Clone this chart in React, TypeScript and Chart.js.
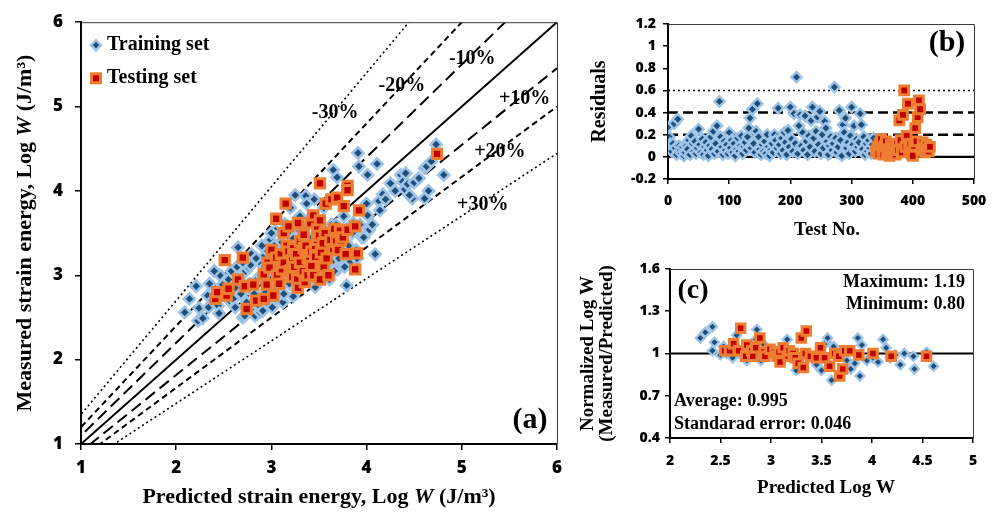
import React, { useEffect, useRef } from "react";
import { Chart, registerables } from "chart.js";

Chart.register(...registerables);

const SERIF = '"Liberation Serif", "Times New Roman", serif';
const SANS = '"Open Sans", "Noto Sans", sans-serif';

const TRAIN_FILL = "#1F4E79";
const TRAIN_EDGE = "#9DC3E6";
const TEST_FILL = "#C00000";
const TEST_EDGE = "#ED7D31";

// ---------- (a) measured vs predicted log W ----------
const trainPredA = [
  2.09, 2.14, 2.21, 2.23, 2.24, 2.28, 2.33, 2.34, 2.38, 2.44, 2.46, 2.49, 2.52, 2.56, 2.6, 2.62,
  2.65, 2.66, 2.7, 2.72, 2.73, 2.76, 2.78, 2.8, 2.81, 2.83, 2.85, 2.88, 2.88, 2.9, 2.92, 2.94,
  2.95, 2.97, 2.99, 3.0, 3.02, 3.04, 3.05, 3.07, 3.09, 3.1, 3.12, 3.12, 3.14, 3.15, 3.16, 3.18,
  3.2, 3.22, 3.24, 3.25, 3.27, 3.28, 3.3, 3.32, 3.34, 3.36, 3.37, 3.38, 3.4, 3.42, 3.43, 3.45,
  3.46, 3.48, 3.5, 3.52, 3.54, 3.55, 3.56, 3.58, 3.6, 3.62, 3.63, 3.65, 3.65, 3.67, 3.69, 3.7,
  3.72, 3.74, 3.76, 3.78, 3.79, 3.8, 3.82, 3.86, 3.9, 3.91, 3.92, 3.95, 4.01, 4.01, 4.03, 4.09,
  4.11, 4.13, 4.14, 4.17, 4.25, 4.36, 4.38, 4.4, 4.41, 4.43, 4.48, 4.61, 4.61, 4.63, 4.68, 4.73,
  4.81, 2.55, 2.58, 2.62, 2.64, 2.68, 2.7, 2.74, 2.77, 2.79, 2.82, 2.84, 2.86, 2.89, 2.91, 2.93,
  2.96, 2.98, 3.01, 3.03, 3.06, 3.08, 3.11, 3.13, 3.17, 3.19, 3.21, 3.23, 3.26, 3.29, 3.31, 3.33,
  3.35, 3.39, 3.41, 3.44, 3.47, 3.49, 3.53, 3.57, 3.59, 3.61, 3.64, 3.66, 3.68, 3.71, 3.73, 3.77,
  3.81, 3.85, 3.89, 3.93, 3.97, 4.0, 4.06, 4.2, 4.3, 4.45, 4.5, 4.55, 4.65, 2.35, 2.45, 2.4,
  3.2, 3.3, 3.45, 3.1, 2.9, 3.0, 3.25,
];
const trainMeasA = [
  2.56, 2.72, 2.87, 2.46, 2.61, 2.49, 2.76, 2.62, 2.7, 2.64, 3.0, 2.89, 2.78, 2.7, 2.72, 2.85,
  3.33, 2.95, 2.5, 2.52, 3.05, 3.09, 3.12, 2.62, 2.56, 2.52, 2.95, 2.56, 3.15, 2.7, 3.22, 2.8,
  3.3, 2.66, 3.42, 2.95, 3.1, 3.53, 2.72, 3.25, 2.79, 3.38, 2.89, 2.68, 3.61, 2.95, 3.05, 3.2,
  2.98, 3.45, 3.1, 2.85, 3.3, 3.55, 3.0, 3.18, 3.4, 3.94, 3.85, 3.05, 3.25, 3.7, 2.95, 3.35,
  2.86, 3.15, 3.55, 3.05, 3.3, 3.8, 2.98, 3.11, 3.4, 3.2, 3.6, 3.18, 4.25, 3.35, 4.16, 3.07,
  3.5, 3.25, 3.7, 3.4, 2.88, 3.55, 3.15, 3.62, 3.2, 4.45, 4.29, 3.45, 4.19, 3.71, 3.54, 3.25,
  4.32, 3.88, 3.77, 3.96, 4.09, 4.19, 4.11, 4.02, 4.21, 4.08, 3.91, 3.91, 4.27, 4.29, 4.35, 4.55,
  4.19, 2.95, 3.05, 2.62, 3.1, 2.78, 3.15, 2.68, 2.9, 3.25, 2.78, 3.2, 2.65, 3.0, 2.58, 3.1,
  2.9, 3.18, 2.62, 3.35, 2.85, 3.05, 3.2, 2.78, 3.5, 2.9, 3.3, 2.75, 3.62, 3.1, 2.9, 3.55,
  3.2, 3.45, 2.98, 3.6, 3.05, 3.25, 3.4, 3.15, 3.3, 2.95, 3.45, 3.05, 3.6, 3.2, 3.4, 3.1,
  3.35, 3.5, 3.3, 3.6, 3.45, 3.85, 3.6, 3.9, 4.0, 3.95, 4.1, 4.15, 4.0, 2.9, 2.55, 3.05,
  3.8, 3.7, 3.9, 3.5, 3.35, 3.5, 3.95,
];
const testPredA = [
  2.41, 2.43, 2.51, 2.53, 2.55, 2.65, 2.7, 2.72, 2.74, 2.81, 2.84, 2.92, 2.92, 2.95, 2.96, 2.98,
  3.0, 3.02, 3.05, 3.05, 3.06, 3.08, 3.1, 3.11, 3.13, 3.13, 3.15, 3.16, 3.18, 3.18, 3.19, 3.21,
  3.22, 3.22, 3.23, 3.24, 3.26, 3.27, 3.28, 3.28, 3.3, 3.3, 3.33, 3.34, 3.34, 3.35, 3.36, 3.38,
  3.38, 3.4, 3.41, 3.42, 3.42, 3.44, 3.44, 3.46, 3.46, 3.48, 3.48, 3.5, 3.51, 3.51, 3.51, 3.52,
  3.54, 3.55, 3.56, 3.57, 3.58, 3.6, 3.62, 3.63, 3.65, 3.66, 3.68, 3.69, 3.7, 3.72, 3.73, 3.75,
  3.76, 3.78, 3.8, 3.8, 3.8, 3.88, 3.88, 3.9, 3.92, 4.74,
];
const testMeasA = [
  2.72, 2.8, 3.18, 2.76, 2.84, 2.95, 3.21, 2.87, 2.6, 2.89, 2.7, 2.72, 3.01, 2.89, 3.15, 3.09,
  3.3, 2.76, 3.67, 3.21, 3.0, 2.9, 3.25, 3.07, 3.15, 3.5, 3.85, 3.35, 3.28, 3.58, 3.05, 3.06,
  3.18, 2.98, 3.32, 3.1, 3.25, 2.95, 3.62, 2.85, 3.15, 3.4, 3.05, 3.32, 3.48, 2.92, 3.35, 3.2,
  3.0, 3.18, 3.62, 3.28, 3.11, 3.71, 3.0, 3.35, 3.22, 3.42, 3.55, 3.47, 4.09, 3.65, 2.95, 3.27,
  3.38, 3.1, 3.5, 3.85, 3.2, 3.0, 3.42, 3.9, 3.31, 3.55, 3.4, 3.92, 3.3, 3.53, 3.41, 3.45,
  3.82, 3.25, 4.06, 4.01, 3.54, 3.58, 3.07, 3.26, 3.77, 4.44,
];
// error bands: measured = factor x predicted
const bandFactors = [1.1, 1.2, 1.35];
const bandLabels = ["-10%", "-20%", "-30%", "+10%", "+20%", "+30%"];
const bandLabelX = [5.11, 4.37, 3.67, 5.66, 5.4, 5.22];
const bandLabelY = [5.57, 5.25, 4.93, 5.09, 4.46, 3.84];

// ---------- (b) residuals by test number ----------
const trainFirstNo = 0;
const testFirstNo = 340;
const testNoStep = 2;
const residualTrain = [
  0.27, 0.18, 0.12, 0.05, 0.12, 0.3, 0.08, 0.02, 0.34, 0.1, 0.06, 0.03, 0.09, 0.01, 0.04, 0.1,
  0.07, 0.15, 0.02, 0.19, 0.12, 0.05, 0.14, 0.03, 0.08, 0.25, 0.11, 0.04, 0.16, 0.02, 0.09, 0.13,
  0.06, 0.01, 0.1, 0.18, 0.07, 0.23, 0.03, 0.12, 0.28, 0.05, 0.5, 0.18, 0.09, 0.02, 0.14, 0.06,
  0.11, 0.03, 0.22, 0.08, 0.15, 0.04, 0.12, 0.01, 0.07, 0.17, 0.05, 0.1, 0.19, 0.03, 0.09, 0.13,
  0.06, 0.18, 0.26, 0.35, 0.08, 0.43, 0.12, 0.04, 0.23, 0.48, 0.18, 0.07, 0.02, 0.11, 0.05, 0.14,
  0.03, 0.2, 0.09, 0.01, 0.06, 0.12, 0.04, 0.2, 0.15, 0.08, 0.44, 0.11, 0.03, 0.17, 0.06, 0.22,
  0.13, 0.02, 0.24, 0.09, 0.45, 0.16, 0.05, 0.39, 0.12, 0.72, 0.03, 0.28, 0.38, 0.1, 0.22, 0.06,
  0.37, 0.14, 0.02, 0.19, 0.09, 0.33, 0.45, 0.17, 0.05, 0.23, 0.36, 0.11, 0.41, 0.03, 0.2, 0.08,
  0.32, 0.26, 0.14, 0.02, 0.1, 0.18, 0.06, 0.12, 0.63, 0.17, 0.04, 0.09, 0.42, 0.15, 0.01, 0.29,
  0.22, 0.35, 0.08, 0.13, 0.03, 0.19, 0.45, 0.11, 0.28, 0.05, 0.16, 0.09, 0.13, 0.39, 0.29, 0.07,
  0.18, 0.02, 0.12, 0.05, 0.15, 0.08, 0.03, 0.11, 0.17, 0.06,
];
const residualTest = [
  0.05, 0.09, 0.03, 0.12, 0.16, 0.06, 0.02, 0.1, 0.14, 0.04, 0.07, 0.01, 0.11, 0.03, 0.08, 0.05,
  0.02, 0.12, 0.06, 0.33, 0.15, 0.04, 0.38, 0.6, 0.09, 0.19, 0.48, 0.07, 0.12, 0.03, 0.01, 0.1,
  0.26, 0.14, 0.36, 0.51, 0.43, 0.06, 0.13, 0.08, 0.04, 0.11, 0.07, 0.05, 0.09,
];
const residualGuides = [0.6, 0.4, 0.2, 0];

// ---------- (c) normalized log W ----------
const trainPredC = [
  2.3, 2.35, 2.42, 2.44, 2.42, 2.5, 2.53, 2.56, 2.62, 2.66, 2.69, 2.76, 2.85, 2.86, 2.9, 2.92,
  3.06, 3.16, 3.22, 3.25, 3.34, 3.45, 3.49, 3.5, 3.55, 3.56, 3.6, 3.62, 3.71, 3.72, 3.75, 3.79,
  3.83, 3.86, 3.88, 3.9, 3.95, 4.01, 4.06, 4.11, 4.14, 4.18, 4.23, 4.28, 4.32, 4.41, 4.42, 4.54,
  4.61,
];
const trainRatioC = [
  1.11, 1.15, 1.19, 1.08, 1.02, 0.99, 1.05, 1.0, 0.97, 1.13, 1.0, 0.95, 1.1, 1.17, 0.95, 1.07,
  0.98, 1.1, 0.98, 0.88, 0.99, 0.92, 0.98, 0.88, 1.08, 1.11, 0.81, 1.05, 0.88, 1.01, 0.95, 0.89,
  0.93, 1.11, 0.84, 1.06, 0.95, 0.97, 0.94, 1.1, 1.04, 0.97, 0.99, 0.92, 1.0, 0.98, 0.89, 1.01,
  0.91,
];
const testPredC = [
  2.54, 2.59, 2.63, 2.68, 2.7, 2.75, 2.76, 2.81, 2.82, 2.85, 2.89, 2.93, 2.94, 2.99, 3.04, 3.06,
  3.08, 3.09, 3.12, 3.17, 3.18, 3.22, 3.24, 3.27, 3.3, 3.32, 3.34, 3.35, 3.39, 3.45, 3.49, 3.53,
  3.58, 3.63, 3.67, 3.68, 3.71, 3.73, 3.78, 3.87, 4.01, 4.19, 4.54,
];
const testRatioC = [
  1.02, 1.02, 1.07, 1.02, 1.18, 0.98, 1.06, 1.02, 0.98, 1.04, 1.11, 1.01, 0.98, 1.03, 1.01, 0.98,
  1.01, 0.94, 1.04, 0.98, 1.02, 1.0, 0.97, 0.93, 1.11, 0.9, 1.0, 1.16, 0.98, 0.97, 1.04, 0.97,
  0.91, 1.0, 0.98, 0.84, 0.89, 1.02, 1.02, 0.99, 1.0, 0.98, 0.98,
];
const statsTop = ["Maximum: 1.19", "Minimum: 0.80"];
const statsBottom = ["Average: 0.995", "Standarad error: 0.046"];

// ---------- helpers ----------
const pts = (xs: number[], ys: number[]) => xs.map((x, i) => ({ x, y: ys[i] }));
const seq = (start: number, ys: number[]) => ys.map((y, i) => ({ x: start + i * testNoStep, y }));

type Run = { t: string; it?: boolean };

function drawRuns(ctx: CanvasRenderingContext2D, runs: Run[], cx: number, cy: number, size: number, angle = 0) {
  ctx.save();
  ctx.translate(cx, cy);
  ctx.rotate(angle);
  ctx.fillStyle = "#000";
  ctx.textAlign = "left";
  ctx.textBaseline = "middle";
  const fontOf = (r: Run) => `${r.it ? "italic " : ""}bold ${size}px ${SERIF}`;
  const widths = runs.map((r) => {
    ctx.font = fontOf(r);
    return ctx.measureText(r.t).width;
  });
  let x = -widths.reduce((s, w) => s + w, 0) / 2;
  runs.forEach((r, i) => {
    ctx.font = fontOf(r);
    ctx.fillText(r.t, x, 0);
    x += widths[i];
  });
  ctx.restore();
}

function text(ctx: CanvasRenderingContext2D, t: string, x: number, y: number, size: number, align: CanvasTextAlign = "center") {
  ctx.save();
  ctx.font = `bold ${size}px ${SERIF}`;
  ctx.fillStyle = "#000";
  ctx.textAlign = align;
  ctx.textBaseline = "middle";
  ctx.fillText(t, x, y);
  ctx.restore();
}

function frame(ctx: CanvasRenderingContext2D, a: any) {
  ctx.save();
  ctx.strokeStyle = "#3a3a3a";
  ctx.lineWidth = 1;
  ctx.beginPath();
  ctx.moveTo(a.left, a.top + 0.5);
  ctx.lineTo(a.right + 0.5, a.top + 0.5);
  ctx.lineTo(a.right + 0.5, a.bottom);
  ctx.stroke();
  ctx.restore();
}

const plainNumber = (v: any) => String(Number(Number(v).toFixed(2)));

function axis(min: number, max: number, step: number, size: number, pad: number, tick: number, fit: number, vertical: boolean) {
  return {
    type: "linear",
    min,
    max,
    ticks: {
      stepSize: step,
      color: "#000",
      font: { family: SANS, size, weight: "800" },
      padding: pad,
      maxRotation: 0,
      autoSkip: false,
      callback: plainNumber,
    },
    grid: { drawOnChartArea: false, drawTicks: true, tickLength: tick, color: "#000", lineWidth: 1.5 },
    border: { display: true, color: "#000", width: 2 },
    afterFit: (s: any) => {
      if (vertical) s.width = fit;
      else s.height = fit;
    },
  };
}

function markerSet(data: any[], train: boolean, r: number, bw: number) {
  return {
    data,
    order: train ? 1 : 0,
    showLine: false,
    pointStyle: train ? "rectRot" : "rect",
    pointRadius: r,
    pointHoverRadius: r,
    pointBorderWidth: bw,
    pointBackgroundColor: train ? TRAIN_FILL : TEST_FILL,
    pointBorderColor: train ? TRAIN_EDGE : TEST_EDGE,
  };
}

function guide(data: any[], dash: number[], width: number) {
  return {
    data,
    order: 2,
    showLine: true,
    pointRadius: 0,
    borderColor: "#000",
    borderWidth: width,
    borderDash: dash,
  };
}

const base = {
  responsive: false,
  animation: false,
  devicePixelRatio: 1,
  events: [],
};
const noChrome = { legend: { display: false }, tooltip: { enabled: false } };

// ---------- chart configs ----------
function configA(): any {
  const dashes = [[12, 6], [6, 4], [2, 3]];
  const widths = [2, 2, 1.6];
  const bands: any[] = [guide([{ x: 1, y: 1 }, { x: 6, y: 6 }], [], 2)];
  bandFactors.forEach((k, i) => {
    bands.push(guide([{ x: 0.5, y: 0.5 * k }, { x: 6, y: 6 * k }], dashes[i], widths[i]));
    bands.push(guide([{ x: 0.5, y: 0.5 / k }, { x: 6, y: 6 / k }], dashes[i], widths[i]));
  });
  return {
    type: "scatter",
    data: {
      datasets: [
        ...bands,
        markerSet(pts(trainPredA, trainMeasA), true, 5.6, 2.6),
        markerSet(pts(testPredA, testMeasA), false, 6.6, 3),
      ],
    },
    options: {
      ...base,
      layout: { padding: { left: 31, top: 15, right: 23, bottom: 30 } },
      scales: {
        x: axis(1, 6, 1, 17, 8, 6, 40, false),
        y: axis(1, 6, 1, 17, 12, 6, 50, true),
      },
      plugins: noChrome,
    },
    plugins: [
      {
        id: "panelA",
        afterDraw(chart: any) {
          const { ctx, chartArea: a, scales } = chart;
          frame(ctx, a);
          bandLabels.forEach((t, i) =>
            text(ctx, t, scales.x.getPixelForValue(bandLabelX[i]), scales.y.getPixelForValue(bandLabelY[i]), 20)
          );
          text(ctx, "(a)", a.right - 27, a.bottom - 24, 30);
          // legend
          ctx.save();
          const lx = a.left + 15;
          const ly1 = a.top + 23;
          const ly2 = a.top + 56;
          ctx.beginPath();
          ctx.moveTo(lx, ly1 - 5);
          ctx.lineTo(lx + 5, ly1);
          ctx.lineTo(lx, ly1 + 5);
          ctx.lineTo(lx - 5, ly1);
          ctx.closePath();
          ctx.fillStyle = TRAIN_FILL;
          ctx.fill();
          ctx.lineWidth = 2.4;
          ctx.strokeStyle = TRAIN_EDGE;
          ctx.stroke();
          ctx.beginPath();
          ctx.rect(lx - 4.5, ly2 - 4.5, 9, 9);
          ctx.fillStyle = TEST_FILL;
          ctx.fill();
          ctx.lineWidth = 3;
          ctx.strokeStyle = TEST_EDGE;
          ctx.stroke();
          ctx.restore();
          text(ctx, "Training set", lx + 11, ly1, 20, "left");
          text(ctx, "Testing set", lx + 11, ly2, 20, "left");
          drawRuns(
            ctx,
            [{ t: "Predicted strain energy, Log " }, { t: "W", it: true }, { t: " (J/m³)" }],
            (a.left + a.right) / 2,
            497,
            22
          );
          drawRuns(
            ctx,
            [{ t: "Measured strain energy, Log " }, { t: "W", it: true }, { t: " (J/m³)" }],
            25,
            (a.top + a.bottom) / 2,
            22,
            -Math.PI / 2
          );
        },
      },
    ],
  };
}

function configB(): any {
  const guides = residualGuides.map((v) =>
    guide(
      [{ x: 0, y: v }, { x: 500, y: v }],
      v === 0 ? [] : v === 0.6 ? [2, 3] : [10, 5],
      v === 0.6 ? 1.6 : 2.4
    )
  );
  return {
    type: "scatter",
    data: {
      datasets: [
        ...guides,
        markerSet(seq(trainFirstNo, residualTrain), true, 5.2, 2.4),
        markerSet(seq(testFirstNo, residualTest), false, 6.2, 3),
      ],
    },
    options: {
      ...base,
      layout: { padding: { left: 38, top: 24, right: 28, bottom: 41 } },
      scales: {
        x: axis(0, 500, 100, 14, 9, 5, 30, false),
        y: axis(-0.2, 1.2, 0.2, 14, 7, 5, 50, true),
      },
      plugins: noChrome,
    },
    plugins: [
      {
        id: "panelB",
        afterDraw(chart: any) {
          const { ctx, chartArea: a } = chart;
          frame(ctx, a);
          text(ctx, "(b)", a.right - 27, a.top + 19, 30);
          drawRuns(ctx, [{ t: "Residuals" }], 20, (a.top + a.bottom) / 2, 20, -Math.PI / 2);
          drawRuns(ctx, [{ t: "Test No." }], 247, 230, 19);
        },
      },
    ],
  };
}

function configC(): any {
  return {
    type: "scatter",
    data: {
      datasets: [
        guide([{ x: 2, y: 1 }, { x: 5, y: 1 }], [], 2),
        markerSet(pts(trainPredC, trainRatioC), true, 4.6, 2.2),
        markerSet(pts(testPredC, testRatioC), false, 6, 3),
      ],
    },
    options: {
      ...base,
      layout: { padding: { left: 40, top: 19, right: 29, bottom: 46 } },
      scales: {
        x: axis(2, 5, 0.5, 14, 10, 5, 30, false),
        y: axis(0.4, 1.6, 0.3, 14, 5, 5, 50, true),
      },
      plugins: noChrome,
    },
    plugins: [
      {
        id: "panelC",
        afterDraw(chart: any) {
          const { ctx, chartArea: a } = chart;
          frame(ctx, a);
          text(ctx, "(c)", a.left + 23, a.top + 22, 28);
          text(ctx, statsTop[0], a.right - 8, a.top + 13, 18, "right");
          text(ctx, statsTop[1], a.right - 8, a.top + 35, 18, "right");
          text(ctx, statsBottom[0], a.left + 4, a.bottom - 37, 18, "left");
          text(ctx, statsBottom[1], a.left + 4, a.bottom - 14, 18, "left");
          const mid = (a.top + a.bottom) / 2;
          drawRuns(ctx, [{ t: "Normalized Log W" }], 8, mid, 19, -Math.PI / 2);
          drawRuns(ctx, [{ t: "(Measured/Predicted)" }], 27, mid, 19, -Math.PI / 2);
          drawRuns(ctx, [{ t: "Predicted Log W" }], 246, 238, 19);
        },
      },
    ],
  };
}

export default function App() {
  const refA = useRef<HTMLCanvasElement>(null);
  const refB = useRef<HTMLCanvasElement>(null);
  const refC = useRef<HTMLCanvasElement>(null);

  useEffect(() => {
    document.body.style.margin = "0";
    const charts = [
      new Chart(refA.current as HTMLCanvasElement, configA()),
      new Chart(refB.current as HTMLCanvasElement, configB()),
      new Chart(refC.current as HTMLCanvasElement, configC()),
    ];
    return () => charts.forEach((c) => c.destroy());
  }, []);

  return (
    <div style={{ position: "fixed", left: 0, top: 0, width: 1002, height: 514, background: "#fff" }}>
      <canvas ref={refA} width={580} height={514} style={{ position: "absolute", left: 0, top: 0 }} />
      <canvas ref={refB} width={422} height={250} style={{ position: "absolute", left: 580, top: 0 }} />
      <canvas ref={refC} width={422} height={264} style={{ position: "absolute", left: 580, top: 250 }} />
    </div>
  );
}
